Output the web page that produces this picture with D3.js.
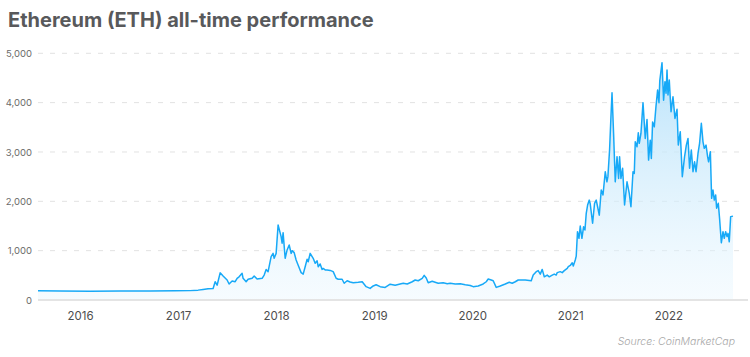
<!DOCTYPE html>
<html>
<head>
<meta charset="utf-8">
<script src="https://cdn.jsdelivr.net/npm/d3@7"></script>
<style>
  html, body { margin: 0; padding: 0; background: #ffffff; }
  svg { display: block; }
</style>
</head>
<body>
<svg id="chart" width="750" height="357"></svg>
<script>
// ---- Data (decimal year, price in USD) ----
const years = [
  2015.571, 2015.796, 2016.102, 2016.408, 2016.714, 2016.969, 2017.122, 2017.204, 2017.255, 2017.306,
  2017.357, 2017.378, 2017.398, 2017.429, 2017.459, 2017.500, 2017.520, 2017.551, 2017.582, 2017.602,
  2017.622, 2017.653, 2017.663, 2017.694, 2017.714, 2017.755, 2017.776, 2017.806, 2017.857, 2017.878,
  2017.898, 2017.918, 2017.949, 2017.969, 2017.980, 2018.000, 2018.020, 2018.051, 2018.061, 2018.071,
  2018.092, 2018.112, 2018.133, 2018.153, 2018.163, 2018.184, 2018.204, 2018.224, 2018.255, 2018.276,
  2018.296, 2018.316, 2018.327, 2018.347, 2018.367, 2018.378, 2018.398, 2018.418, 2018.429, 2018.449,
  2018.469, 2018.480, 2018.500, 2018.520, 2018.551, 2018.582, 2018.612, 2018.633, 2018.673, 2018.694,
  2018.724, 2018.755, 2018.786, 2018.837, 2018.878, 2018.918, 2018.959, 2018.990, 2019.020, 2019.061,
  2019.112, 2019.163, 2019.214, 2019.265, 2019.296, 2019.337, 2019.388, 2019.418, 2019.449, 2019.490,
  2019.510, 2019.531, 2019.551, 2019.592, 2019.622, 2019.653, 2019.704, 2019.745, 2019.776, 2019.827,
  2019.878, 2019.929, 2019.980, 2020.010, 2020.061, 2020.112, 2020.143, 2020.163, 2020.194, 2020.214,
  2020.245, 2020.286, 2020.337, 2020.378, 2020.408, 2020.439, 2020.469, 2020.541, 2020.602, 2020.622,
  2020.653, 2020.673, 2020.694, 2020.714, 2020.735, 2020.765, 2020.786, 2020.816, 2020.837, 2020.857,
  2020.867, 2020.898, 2020.918, 2020.939, 2020.969, 2020.980, 2021.000, 2021.020, 2021.031, 2021.051,
  2021.061, 2021.074, 2021.089, 2021.102, 2021.119, 2021.136, 2021.150, 2021.163, 2021.177, 2021.194,
  2021.204, 2021.228, 2021.248, 2021.265, 2021.279, 2021.296, 2021.316, 2021.334, 2021.357, 2021.374,
  2021.384, 2021.401, 2021.415, 2021.426, 2021.442, 2021.459, 2021.477, 2021.493, 2021.503, 2021.517,
  2021.534, 2021.554, 2021.579, 2021.602, 2021.619, 2021.640, 2021.653, 2021.663, 2021.681, 2021.694,
  2021.704, 2021.721, 2021.742, 2021.765, 2021.783, 2021.799, 2021.816, 2021.827, 2021.840, 2021.857,
  2021.874, 2021.891, 2021.905, 2021.913, 2021.936, 2021.952, 2021.966, 2021.977, 2021.987, 2021.997,
  2022.010, 2022.028, 2022.048, 2022.068, 2022.089, 2022.102, 2022.122, 2022.143, 2022.166, 2022.184,
  2022.201, 2022.217, 2022.235, 2022.252, 2022.268, 2022.283, 2022.303, 2022.319, 2022.337, 2022.354,
  2022.367, 2022.385, 2022.401, 2022.411, 2022.429, 2022.442, 2022.456, 2022.469, 2022.483, 2022.493,
  2022.510, 2022.523, 2022.541, 2022.558, 2022.571, 2022.585, 2022.599, 2022.609, 2022.622, 2022.636,
  2022.660
];
const prices = [
  185, 182, 178, 180, 182, 185, 190, 200, 215, 230,
  232, 370, 300, 550, 485, 405, 325, 385, 370, 440,
  470, 540, 440, 370, 420, 440, 485, 425, 440, 505,
  620, 575, 880, 945, 845, 945, 1520, 1285, 1150, 1365,
  845, 1015, 1115, 945, 1000, 960, 810, 710, 555, 525,
  675, 825, 775, 945, 880, 845, 745, 795, 675, 730,
  620, 640, 610, 610, 600, 575, 440, 420, 420, 340,
  390, 365, 350, 360, 370, 270, 235, 285, 310, 270,
  255, 320, 300, 325, 340, 325, 370, 405, 390, 440,
  500, 445, 350, 380, 360, 340, 350, 330, 340, 325,
  330, 310, 295, 270, 285, 325, 370, 425, 405, 390,
  255, 285, 325, 360, 340, 370, 405, 405, 390, 505,
  575, 595, 525, 620, 470, 505, 470, 505, 525, 505,
  555, 575, 555, 595, 640, 675, 700, 755, 690, 810,
  890, 1385, 1250, 1500, 1250, 1485, 1420, 1755, 1925, 2025,
  1945, 1555, 1960, 2025, 1890, 1720, 2230, 2130, 2600, 2395,
  2500, 3040, 3715, 4200, 3375, 2395, 2905, 2465, 2905, 2465,
  2670, 1925, 2395, 2160, 1890, 2600, 2565, 3205, 3105, 3390,
  3175, 3375, 4000, 3275, 3660, 2835, 3240, 2870, 3610, 3510,
  3915, 4255, 4000, 4440, 4810, 4050, 4425, 4190, 4660, 4155,
  4460, 3815, 4120, 3680, 3865, 3140, 3410, 2500, 2905, 3140,
  3275, 2670, 3040, 2600, 2800, 2600, 2970, 3175, 3580, 3205,
  3075, 3140, 2905, 2800, 3005, 2060, 2230, 2025, 2130, 1860,
  1960, 1655, 1160, 1385, 1250, 1385, 1285, 1350, 1180, 1690,
  1700
];
const yTicks = [0, 1000, 2000, 3000, 4000, 5000];
const xTicks = [2016, 2017, 2018, 2019, 2020, 2021, 2022];
const titleText = "Ethereum (ETH) all-time performance";
const sourceText = "Source: CoinMarketCap";

// ---- Layout ----
const svg = d3.select("#chart");
const mLeft = 38, mRight = 733, gridRight = 745, mTop = 53.3, mBottom = 300;

const x = d3.scaleLinear().domain([2015.571, 2022.660]).range([mLeft, mRight]);
const y = d3.scaleLinear().domain([0, 5000]).range([mBottom, mTop]);

const data = years.map((t, i) => ({ t, v: prices[i] }));

// Title
svg.append("text")
  .attr("x", 8).attr("y", 27)
  .attr("font-family", "Inter, 'Open Sans', sans-serif")
  .attr("font-weight", 700)
  .attr("font-size", 20)
  .attr("fill", "#58595b")
  .text(titleText);

// Gradient
const defs = svg.append("defs");
const grad = defs.append("linearGradient")
  .attr("id", "areaGrad")
  .attr("gradientUnits", "userSpaceOnUse")
  .attr("x1", 0).attr("x2", 0)
  .attr("y1", y(5000)).attr("y2", y(0));
grad.append("stop").attr("offset", "0%").attr("stop-color", "#b3e0fa").attr("stop-opacity", 0.95);
grad.append("stop").attr("offset", "100%").attr("stop-color", "#e8f6fe").attr("stop-opacity", 0.4);

// Y axis labels
const yAxis = d3.axisLeft(y).tickValues(yTicks).tickSize(0).tickPadding(6)
  .tickFormat(d3.format(","));
const gy = svg.append("g").attr("transform", `translate(${mLeft},0)`).call(yAxis);
gy.select(".domain").remove();
gy.selectAll("text")
  .attr("x", -6)
  .attr("font-family", "Inter, 'Open Sans', sans-serif")
  .attr("font-size", 9.5)
  .attr("fill", "#6b6b6b");

// Grid lines (dashed)
svg.append("g").selectAll("line")
  .data(yTicks.filter(d => d > 0))
  .join("line")
  .attr("x1", mLeft).attr("x2", gridRight)
  .attr("y1", d => y(d)).attr("y2", d => y(d))
  .attr("stroke", "#e2e2e2")
  .attr("stroke-width", 1)
  .attr("stroke-dasharray", "5,7");

// Area
const area = d3.area().x(d => x(d.t)).y0(y(0)).y1(d => y(d.v));
svg.append("path").datum(data)
  .attr("d", area)
  .attr("fill", "url(#areaGrad)");

// Baseline
svg.append("line")
  .attr("x1", mLeft).attr("x2", 748)
  .attr("y1", y(0)).attr("y2", y(0))
  .attr("stroke", "#e4e4e4").attr("stroke-width", 2);

// Line
const line = d3.line().x(d => x(d.t)).y(d => y(d.v));
svg.append("path").datum(data)
  .attr("d", line)
  .attr("fill", "none")
  .attr("stroke", "#17a9f7")
  .attr("stroke-width", 1.5)
  .attr("stroke-linejoin", "round");

// X axis labels
const xAxis = d3.axisBottom(x).tickValues(xTicks).tickSize(0).tickPadding(0)
  .tickFormat(d3.format("d"));
const gx = svg.append("g").attr("transform", `translate(0,${mBottom})`).call(xAxis);
gx.select(".domain").remove();
gx.selectAll("text")
  .attr("y", 20)
  .attr("dy", 0)
  .attr("font-family", "Inter, 'Open Sans', sans-serif")
  .attr("font-size", 11.5)
  .attr("fill", "#4d4d4d");

// Source
svg.append("text")
  .attr("x", 735).attr("y", 345)
  .attr("text-anchor", "end")
  .attr("font-family", "Inter, 'Open Sans', sans-serif")
  .attr("font-style", "italic")
  .attr("font-weight", 300)
  .attr("font-size", 10.5)
  .attr("fill", "#a8a8a8")
  .text(sourceText);
</script>
</body>
</html>
